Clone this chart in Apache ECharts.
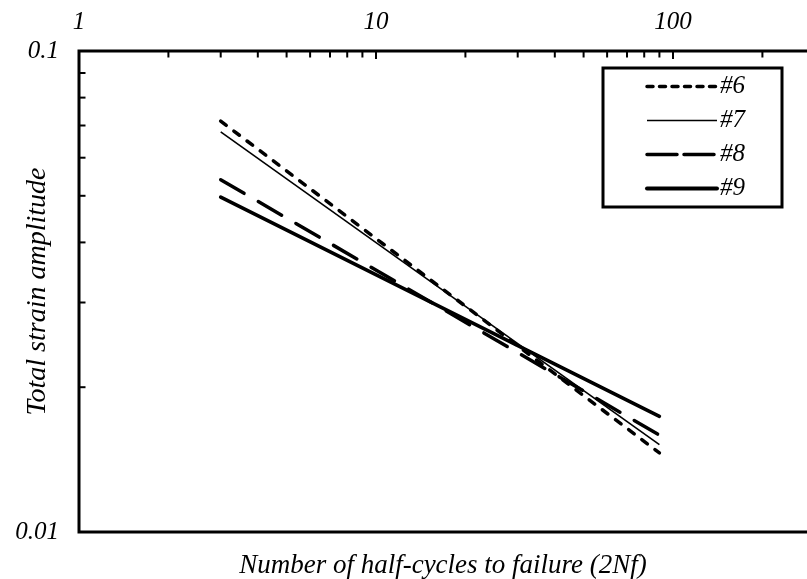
<!DOCTYPE html>
<html>
<head>
<meta charset="utf-8">
<script src="https://cdn.jsdelivr.net/npm/echarts@6/dist/echarts.min.js"></script>
<style>
html,body{margin:0;padding:0;background:#fff;}
#chart{width:807px;height:579px;}
</style>
</head>
<body>
<div id="chart"></div>
<script>
// ---- data ----
const seriesNames = ['#6', '#7', '#8', '#9'];
const cyclesRange = [3, 90];
const strain6 = [0.0715, 0.0146];
const strain7 = [0.0679, 0.0152];
const strain8 = [0.0540, 0.0159];
const strain9 = [0.0497, 0.0174];
const xTickLabels = [1, 10, 100, 1000];
const yTickLabels = [0.01, 0.1];
const xMinorTicks = [2,3,4,5,6,7,8,9,10,20,30,40,50,60,70,80,90,100,200,300,400,500,600,700,800,900];
const yMinorTicks = [0.02,0.03,0.04,0.05,0.06,0.07,0.08,0.09];

const FONT = 'Liberation Serif';
const pairs = (ys) => cyclesRange.map((x, i) => [x, ys[i]]);

const chart = echarts.init(document.getElementById('chart'), null, {renderer: 'canvas'});

const lineStyles = [
  {color: '#000', width: 3.5, type: [7, 9.5], cap: 'round'},
  {color: '#000', width: 1.6, type: 'solid'},
  {color: '#000', width: 3.5, type: [27, 16.5], cap: 'round'},
  {color: '#000', width: 3.6, type: 'solid', cap: 'round'}
];
const legendLineStyles = [
  {color: '#000', width: 3.5, type: [6, 6.5], cap: 'round'},
  {color: '#000', width: 1.6, type: 'solid'},
  {color: '#000', width: 3.5, type: [30, 7], cap: 'round'},
  {color: '#000', width: 4, type: 'solid', cap: 'round'}
];
const dataSets = [strain6, strain7, strain8, strain9];

const series = seriesNames.map((n, i) => ({
  name: n,
  type: 'line',
  data: pairs(dataSets[i]),
  symbol: 'none',
  lineStyle: lineStyles[i],
  itemStyle: {color: '#000'},
  silent: true,
  z: 3
}));

series.push({
  type: 'custom',
  name: 'xticks',
  data: xMinorTicks.map(v => [v]),
  renderItem: function (params, api) {
    const v = api.value(0);
    const p = api.coord([v, 0.1]);
    const len = (v === 10 || v === 100) ? 8 : 6.5;
    return {type: 'line', shape: {x1: p[0], y1: p[1], x2: p[0], y2: p[1] + len},
      style: {stroke: '#000', lineWidth: 2}};
  },
  encode: {x: 0},
  silent: true, z: 4
});
series.push({
  type: 'custom',
  name: 'yticks',
  data: yMinorTicks.map(v => [1, v]),
  renderItem: function (params, api) {
    const p = api.coord([1, api.value(1)]);
    return {type: 'line', shape: {x1: p[0], y1: p[1], x2: p[0] + 6.5, y2: p[1]},
      style: {stroke: '#000', lineWidth: 2}};
  },
  encode: {x: 0, y: 1},
  silent: true, z: 4
});

const option = {
  backgroundColor: '#fff',
  animation: false,
  grid: {left: 79, top: 51, width: 891, height: 481, show: true,
    outerBoundsMode: 'none', containLabel: false,
    borderColor: '#000', borderWidth: 3, backgroundColor: 'transparent'},
  xAxis: {
    type: 'log', logBase: 10, min: 1, max: 1000, position: 'top',
    axisLine: {show: false}, axisTick: {show: false}, splitLine: {show: false},
    axisLabel: {color: '#000', fontFamily: FONT, fontStyle: 'italic', fontSize: 25, margin: 16,
      formatter: v => xTickLabels.indexOf(v) >= 0 ? String(v) : ''}
  },
  yAxis: {
    type: 'log', logBase: 10, min: 0.01, max: 0.1,
    axisLine: {show: false}, axisTick: {show: false}, splitLine: {show: false},
    axisLabel: {color: '#000', fontFamily: FONT, fontStyle: 'italic', fontSize: 25, margin: 20,
      formatter: v => { const r = yTickLabels.find(t => Math.abs(t - v) < 1e-9); return r === undefined ? '' : String(r); }},
    name: 'Total strain amplitude', nameLocation: 'middle', nameGap: 27, nameRotate: 90,
    nameMoveOverlap: false,
    nameTextStyle: {color: '#000', fontFamily: FONT, fontStyle: 'italic', fontSize: 28}
  },
  legend: {
    data: seriesNames.map((n, i) => ({name: n, lineStyle: legendLineStyles[i]})),
    orient: 'vertical', left: 603, top: 68,
    itemWidth: 70, itemHeight: 14, itemGap: 9,
    padding: [6, 37, 6, 42],
    borderColor: '#000', borderWidth: 3, backgroundColor: '#fff',
    itemStyle: {opacity: 0, borderWidth: 0, color: 'rgba(0,0,0,0)'},
    textStyle: {color: '#000', fontFamily: FONT, fontStyle: 'italic', fontSize: 25, lineHeight: 23, padding: [0,0,0,-2]},
    selectedMode: false
  },
  graphic: [{
    type: 'text', x: 443, y: 566,
    style: {text: 'Number of half-cycles to failure (2Nf)', fill: '#000',
      font: 'italic 27px "Liberation Serif"', textAlign: 'center', textVerticalAlign: 'middle'}
  }],
  series: series
};
chart.setOption(option);
</script>
</body>
</html>
